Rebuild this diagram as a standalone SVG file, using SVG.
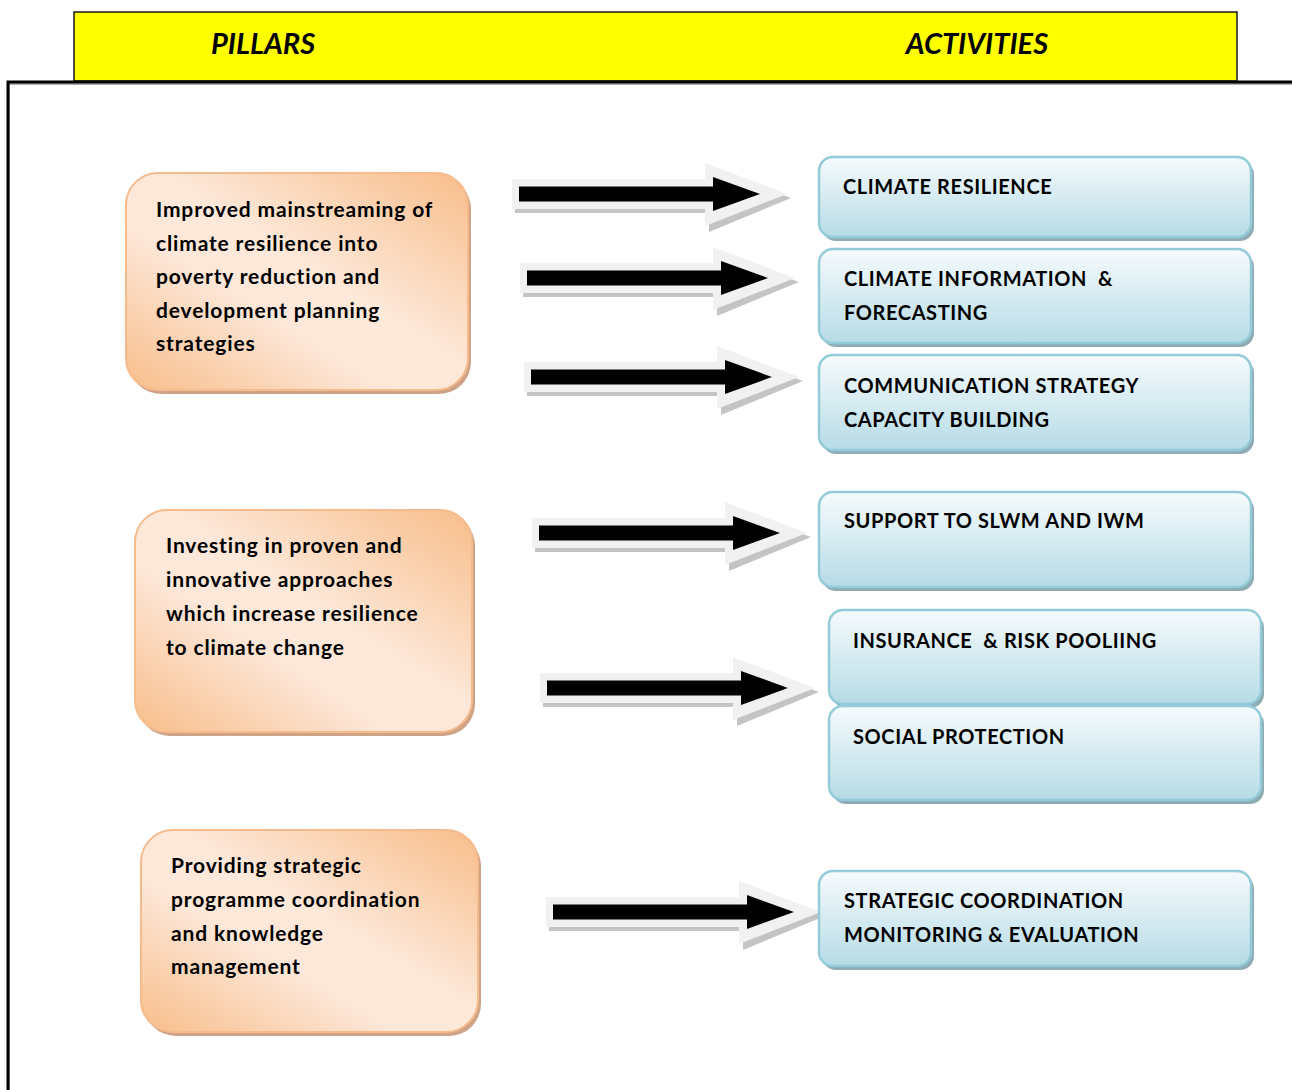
<svg xmlns="http://www.w3.org/2000/svg" width="1292" height="1090" viewBox="0 0 1292 1090">
<defs>
<linearGradient id="og" x1="1" y1="0" x2="0" y2="1">
<stop offset="0" stop-color="#f8bd8a"/>
<stop offset="0.45" stop-color="#fde8d9"/>
<stop offset="0.62" stop-color="#fde7d8"/>
<stop offset="1" stop-color="#f8bd8a"/>
</linearGradient>
<linearGradient id="bg" x1="0" y1="0" x2="0" y2="1">
<stop offset="0" stop-color="#f6fbfd"/>
<stop offset="1" stop-color="#b6dbe6"/>
</linearGradient>
<style>
.ob{fill:url(#og);stroke:#f6bb8d;stroke-width:2}
.os{fill:#cfa386}
.bb{fill:url(#bg);stroke:#93cbd9;stroke-width:2.5}
.bs{fill:#8fabb4}
.t{font-family:Lato,"Open Sans","Liberation Sans",sans-serif;font-weight:bold;font-size:20px;fill:#000;letter-spacing:0.6px}
.p{font-size:21px;letter-spacing:0.85px}
.h{font-family:Lato,"Open Sans","Liberation Sans",sans-serif;font-weight:bold;font-style:italic;font-size:29px;fill:#000}
.ao{fill:#f1f1f1}
.ash{fill:#c4c4c4}
.ab{fill:#000}
</style>
<g id="arrowShape">
<path class="ash" d="M-4,-10 H190 V-26 L272,4 L190,38 V19 H-4 Z"/>
<path class="ao" d="M-7,-15 H186 V-31 L268,0 L186,32 V15 H-7 Z"/>
<path class="ab" d="M0,-7.5 H194 V-17 L241,0 L194,17 V7.5 H0 Z"/>
</g>
</defs>
<rect width="1292" height="1090" fill="#ffffff"/>
<g id="header">
<rect x="74" y="12" width="1163" height="69" fill="#ffff00" stroke="#1a1a1a" stroke-width="1.5"/>
<text class="h" x="263" y="54" text-anchor="middle">PILLARS</text>
<text class="h" x="977" y="54" text-anchor="middle">ACTIVITIES</text>
</g>
<g id="frame">
<path d="M9,1090 V84 H1292" fill="none" stroke="#b0b0b0" stroke-width="2"/>
<path d="M8,1090 V82 H1292" fill="none" stroke="#000" stroke-width="3"/>
</g>
<g id="pillar1">
<rect class="os" x="129" y="177" width="342" height="217" rx="32"/>
<rect class="ob" x="126" y="173" width="342" height="217" rx="32"/>
<text class="t p" x="156" y="217">Improved mainstreaming of</text>
<text class="t p" x="156" y="251">climate resilience into</text>
<text class="t p" x="156" y="284">poverty reduction and</text>
<text class="t p" x="156" y="318">development planning</text>
<text class="t p" x="156" y="351">strategies</text>
</g>
<g id="pillar2">
<rect class="os" x="138" y="514" width="337" height="222" rx="32"/>
<rect class="ob" x="135" y="510" width="337" height="222" rx="32"/>
<text class="t p" x="166" y="553">Investing in proven and</text>
<text class="t p" x="166" y="587">innovative approaches</text>
<text class="t p" x="166" y="621">which increase resilience</text>
<text class="t p" x="166" y="655">to climate change</text>
</g>
<g id="pillar3">
<rect class="os" x="144" y="834" width="337" height="202" rx="32"/>
<rect class="ob" x="141" y="830" width="337" height="202" rx="32"/>
<text class="t p" x="171" y="873">Providing strategic</text>
<text class="t p" x="171" y="907">programme coordination</text>
<text class="t p" x="171" y="941">and knowledge</text>
<text class="t p" x="171" y="974">management</text>
</g>
<g id="connectors">
<use href="#arrowShape" transform="translate(519,194)"/>
<use href="#arrowShape" transform="translate(527,278)"/>
<use href="#arrowShape" transform="translate(531,377)"/>
<use href="#arrowShape" transform="translate(539,533)"/>
<use href="#arrowShape" transform="translate(547,688)"/>
<use href="#arrowShape" transform="translate(553,912)"/>
</g>
<g id="act1">
<rect class="bs" x="822" y="161" width="432" height="80" rx="14"/>
<rect class="bb" x="819" y="157" width="432" height="80" rx="14"/>
<text class="t" x="843" y="194">CLIMATE RESILIENCE</text>
</g>
<g id="act2">
<rect class="bs" x="822" y="253" width="432" height="94" rx="14"/>
<rect class="bb" x="819" y="249" width="432" height="94" rx="14"/>
<text class="t" x="844" y="286" xml:space="preserve">CLIMATE INFORMATION  &amp;</text>
<text class="t" x="844" y="320">FORECASTING</text>
</g>
<g id="act3">
<rect class="bs" x="822" y="359" width="432" height="95" rx="14"/>
<rect class="bb" x="819" y="355" width="432" height="95" rx="14"/>
<text class="t" x="844" y="393">COMMUNICATION STRATEGY</text>
<text class="t" x="844" y="427">CAPACITY BUILDING</text>
</g>
<g id="act4">
<rect class="bs" x="822" y="496" width="432" height="95" rx="14"/>
<rect class="bb" x="819" y="492" width="432" height="95" rx="14"/>
<text class="t" x="844" y="528">SUPPORT TO SLWM AND IWM</text>
</g>
<g id="act5">
<rect class="bs" x="832" y="614" width="432" height="94" rx="14"/>
<rect class="bb" x="829" y="610" width="432" height="94" rx="14"/>
<text class="t" x="853" y="648" xml:space="preserve">INSURANCE  &amp; RISK POOLIING</text>
</g>
<g id="act6">
<rect class="bs" x="832" y="710" width="432" height="94" rx="14"/>
<rect class="bb" x="829" y="706" width="432" height="94" rx="14"/>
<text class="t" x="853" y="744">SOCIAL PROTECTION</text>
</g>
<g id="act7">
<rect class="bs" x="822" y="875" width="432" height="95" rx="14"/>
<rect class="bb" x="819" y="871" width="432" height="95" rx="14"/>
<text class="t" x="844" y="908">STRATEGIC COORDINATION</text>
<text class="t" x="844" y="942">MONITORING &amp; EVALUATION</text>
</g>
</svg>
